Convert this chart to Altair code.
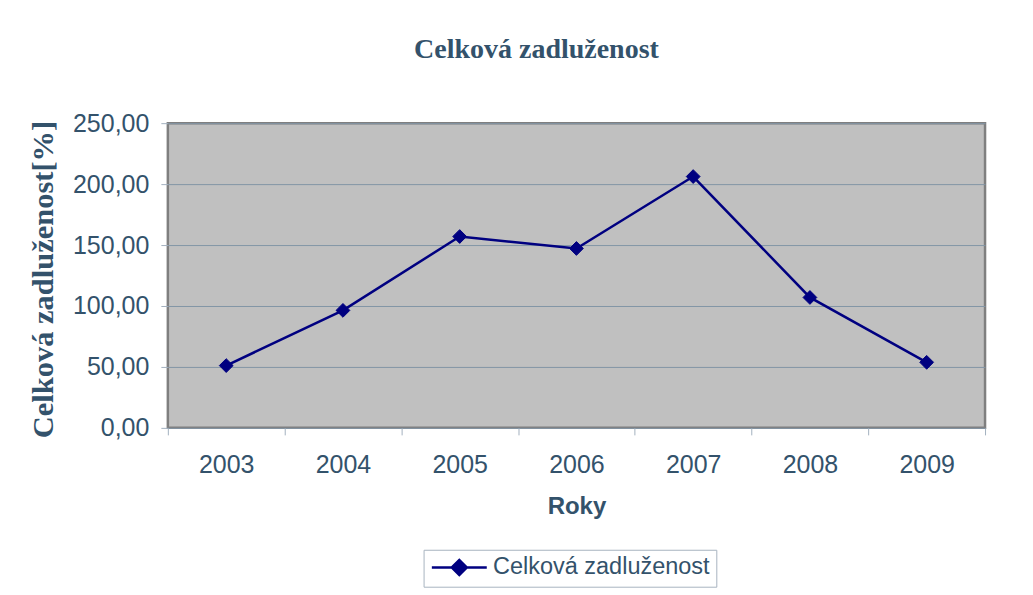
import altair as alt
import pandas as pd

years = ["2003", "2004", "2005", "2006", "2007", "2008", "2009"]
values = [51.1, 96.4, 157.0, 147.2, 206.2, 107.0, 53.8]
series = ["Celková zadluženost"] * len(years)
y_ticks = [0, 50, 100, 150, 200, 250]

df = pd.DataFrame({"Rok": years, "Hodnota": values, "Serie": series})

TXT = "#33526B"
NAVY = "#000080"

color = alt.Color(
    "Serie:N",
    scale=alt.Scale(range=[NAVY]),
    legend=alt.Legend(
        title=None,
        orient="none",
        legendX=256,
        legendY=427,
        symbolType="M-2.75,0H2.75M-0.75,0L0,-0.75L0.75,0L0,0.75Z",
        symbolSize=400,
        symbolStrokeWidth=2.5,
        symbolFillColor=NAVY,
        symbolStrokeColor=NAVY,
        symbolOffset=18,
        labelOffset=22,
        labelFont="Liberation Sans",
        labelFontSize=23.5,
        labelColor=TXT,
        labelLimit=400,
        strokeColor="#A8B4C0",
        fillColor="white",
        padding=6,
    ),
)

x = alt.X(
    "Rok:O",
    sort=years,
    scale=alt.Scale(type="band", paddingInner=0, paddingOuter=0),
    axis=alt.Axis(
        title="Roky",
        titleFont="Liberation Sans",
        titleFontSize=24,
        titleFontWeight="bold",
        titleColor=TXT,
        titleY=86,
        titleBaseline="alphabetic",
        labelAngle=0,
        labelFont="Liberation Sans",
        labelFontSize=25,
        labelColor=TXT,
        labelPadding=18,
        tickBand="extent",
        tickSize=7,
        tickColor="#A3B1BF",
        domain=False,
        grid=False,
    ),
)

y = alt.Y(
    "Hodnota:Q",
    scale=alt.Scale(domain=[0, 250], nice=False, zero=True),
    axis=alt.Axis(
        title="Celková zadluženost[%]",
        titleFont="Liberation Serif",
        titleFontSize=30.5,
        titleFontWeight="bold",
        titleColor=TXT,
        titleX=-115,
        titleY=156,
        titleAngle=-90,
        titleAlign="center",
        titleBaseline="alphabetic",
        values=y_ticks,
        labelExpr="replace(format(datum.value, '.2f'), '.', ',')",
        labelFont="Liberation Sans",
        labelFontSize=25,
        labelColor=TXT,
        labelPadding=12,
        tickSize=7,
        tickColor="#A3B1BF",
        domain=False,
        grid=True,
        gridColor="#8396A6",
        gridWidth=1,
    ),
)

line = alt.Chart(df).mark_line(strokeWidth=2.5).encode(x=x, y=y, color=color)
points = alt.Chart(df).mark_point(
    shape="diamond", filled=True, size=190, opacity=1, stroke=NAVY, strokeWidth=1
).encode(x=x, y=y, color=color)

chart = (
    alt.layer(line, points)
    .properties(
        width=818,
        height=305,
        title=alt.TitleParams(
            "Celková zadluženost",
            font="Liberation Serif",
            fontSize=28,
            fontWeight="bold",
            color=TXT,
            anchor="middle",
            frame="group",
            dx=-40,
            offset=47,
        ),
        autosize=alt.AutoSizeParams(type="none"),
        padding={"left": 160, "top": 115, "right": 40, "bottom": 160},
        background="white",
    )
    .configure_view(fill="#C0C0C0", stroke="#7F7F7F", strokeWidth=2.5)
)

chart.save("out.html", embed_options={"renderer": "svg", "actions": False})
